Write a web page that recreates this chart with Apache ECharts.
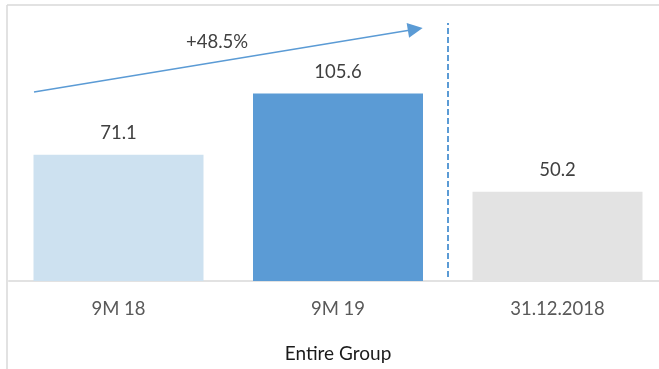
<!DOCTYPE html>
<html>
<head>
<meta charset="utf-8">
<style>
  html, body { margin: 0; padding: 0; background: #fff; }
  #chart { width: 659px; height: 369px; }
</style>
<script src="https://cdn.jsdelivr.net/npm/echarts@6/dist/echarts.min.js"></script>
</head>
<body>
<div id="chart"></div>
<script>
// Periods and values (EUR m) for the entire group
const categories = ['9M 18', '9M 19', '31.12.2018'];
const values = [71.1, 105.6, 50.2];
const barColors = ['#cde1f0', '#5b9bd5', '#e3e3e3'];
const axisTitle = 'Entire Group';
const growthLabel = '+48.5%';

// Growth arrow endpoints and divider, in data units (x on a continuous 0..2 category scale)
const arrowFrom = [-0.385, 106.4];
const arrowTo = [1.352, 141.8];
const growthLabelAt = [0.449, 134.6];
const dividerX = 1.5;
const dividerSpan = [2.3, 145.3];

const FONT = 'Lato, "Open Sans", sans-serif';

const chart = echarts.init(document.getElementById('chart'), null, { renderer: 'canvas' });

chart.setOption({
  animation: false,
  textStyle: { fontFamily: FONT },
  grid: { left: 8.75, top: 14.6, bottom: 88, width: 658.5, containLabel: false, outerBoundsMode: 'none' },
  xAxis: [
    {
      type: 'category',
      data: categories,
      axisLine: { show: true, lineStyle: { color: '#d9d9d9', width: 1.5 } },
      axisTick: { show: false },
      axisLabel: { color: '#595959', fontSize: 18.5, margin: 19, fontFamily: FONT },
      name: axisTitle,
      nameLocation: 'middle',
      nameGap: 63,
      nameTextStyle: { color: '#1a1a1a', fontSize: 19, fontFamily: FONT }
    },
    {
      type: 'value',
      min: -0.5,
      max: 2.5,
      show: false
    }
  ],
  yAxis: {
    type: 'value',
    min: 0,
    max: 150,
    show: false,
    splitLine: { show: false }
  },
  series: [
    {
      type: 'bar',
      xAxisIndex: 0,
      barWidth: 170,
      data: values.map((v, i) => ({ value: v, itemStyle: { color: barColors[i] } })),
      label: {
        show: true,
        position: 'top',
        distance: 12,
        color: '#404040',
        fontSize: 18.5,
        fontFamily: FONT,
        formatter: p => p.value.toFixed(1)
      }
    },
    {
      // growth arrow, its label and the period divider
      type: 'line',
      xAxisIndex: 1,
      data: [],
      silent: true,
      markLine: {
        silent: true,
        animation: false,
        label: { show: false },
        data: [
          [
            { coord: arrowFrom, symbol: 'none', lineStyle: { color: '#5b9bd5', width: 1.5, type: 'solid' } },
            { coord: arrowTo, symbol: 'triangle', symbolSize: [15, 15] }
          ],
          [
            { coord: [dividerX, dividerSpan[0]], symbol: 'none', lineStyle: { color: '#5b9bd5', width: 2, type: [6, 3] } },
            { coord: [dividerX, dividerSpan[1]], symbol: 'none' }
          ]
        ]
      },
      markPoint: {
        silent: true,
        symbol: 'circle',
        symbolSize: 0,
        label: {
          show: true,
          position: 'inside',
          color: '#404040',
          fontSize: 18.5,
          fontFamily: FONT,
          formatter: growthLabel
        },
        data: [{ coord: growthLabelAt }]
      }
    }
  ],
  graphic: [
    { type: 'line', shape: { x1: 7, y1: 5, x2: 659, y2: 5 }, style: { stroke: '#d9d9d9', lineWidth: 1.5 }, silent: true },
    { type: 'line', shape: { x1: 7, y1: 5, x2: 7, y2: 369 }, style: { stroke: '#d9d9d9', lineWidth: 1.5 }, silent: true }
  ]
});
</script>
</body>
</html>
